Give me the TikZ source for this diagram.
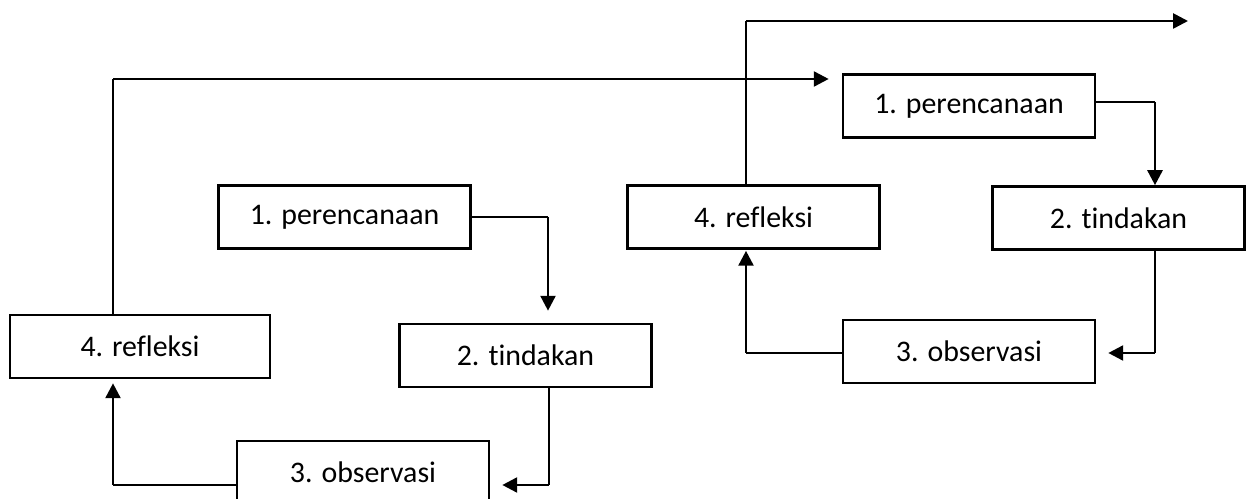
\documentclass[tikz,border=0pt]{standalone}
\usepackage{fontspec}
\setmainfont{Carlito}[Ligatures=CommonOff]
\usetikzlibrary{arrows.meta,calc}

\begin{document}
\begin{tikzpicture}[
    x=0.02cm, y=-0.02cm,
    >={Triangle[length=8.5pt,width=8.5pt]},
    box/.style={rectangle, draw, line width=1.5pt, minimum width=5.04cm,
                minimum height=1.26cm, inner sep=0pt, font=\fontsize{17}{20}\selectfont},
    widebox/.style={box, minimum width=5.2cm},
    link/.style={line width=0.8pt},
    arr/.style={->, line width=1.5pt}
  ]
  \useasboundingbox (0,0) rectangle (1251,499);

  % first cycle
  \node[box] (plan1) at (344.5,217) {1. perencanaan};
  \node[box] (act1) at (525.5,355.5) {2. tindakan};
  \node[box] (obs1) at (363,472.5) {3. observasi};
  \node[widebox] (ref1) at (140,346.5) {4. refleksi};

  % second cycle
  \node[box] (plan2) at (969,106) {1. perencanaan};
  \node[box] (act2) at (1118.5,218) {2. tindakan};
  \node[box] (obs2) at (969,351.5) {3. observasi};
  \node[box] (ref2) at (753.5,217) {4. refleksi};

  \coordinate (k1) at (548,217);
  \coordinate (k2) at (549,485);
  \coordinate (k3) at (113,485);
  \coordinate (k4) at (113,79);
  \coordinate (k5) at (1155,102);
  \coordinate (k6) at (1155,353);
  \coordinate (k7) at (746,353);
  \coordinate (k8) at (746,21);
  \coordinate (out) at (1188,21);

  \draw[link] (plan1.east |- k1) -- (k1);
  \draw[arr, shorten >=0.24cm] (k1) -- (k1 |- act1.north);
  \draw[link] (k2 |- act1.south) -- (k2);
  \draw[arr, shorten >=0.24cm] (k2) -- (k2 -| obs1.east);
  \draw[link] (k3 -| obs1.west) -- (k3);
  \draw[arr, shorten >=0.08cm] (k3) -- (k3 |- ref1.south);
  \draw[link] (k4 |- ref1.north) -- (k4);
  \draw[arr, shorten >=0.26cm] (k4) -- (k4 -| plan2.west);

  \draw[link] (plan2.east |- k5) -- (k5);
  \draw[arr] (k5) -- (k5 |- act2.north);
  \draw[link] (k6 |- act2.south) -- (k6);
  \draw[arr, shorten >=0.24cm] (k6) -- (k6 -| obs2.east);
  \draw[link] (k7 -| obs2.west) -- (k7);
  \draw[arr, shorten >=0.02cm] (k7) -- (k7 |- ref2.south);
  \draw[link] (k8 |- ref2.north) -- (k8);
  \draw[arr] (k8) -- (out);
\end{tikzpicture}
\end{document}
